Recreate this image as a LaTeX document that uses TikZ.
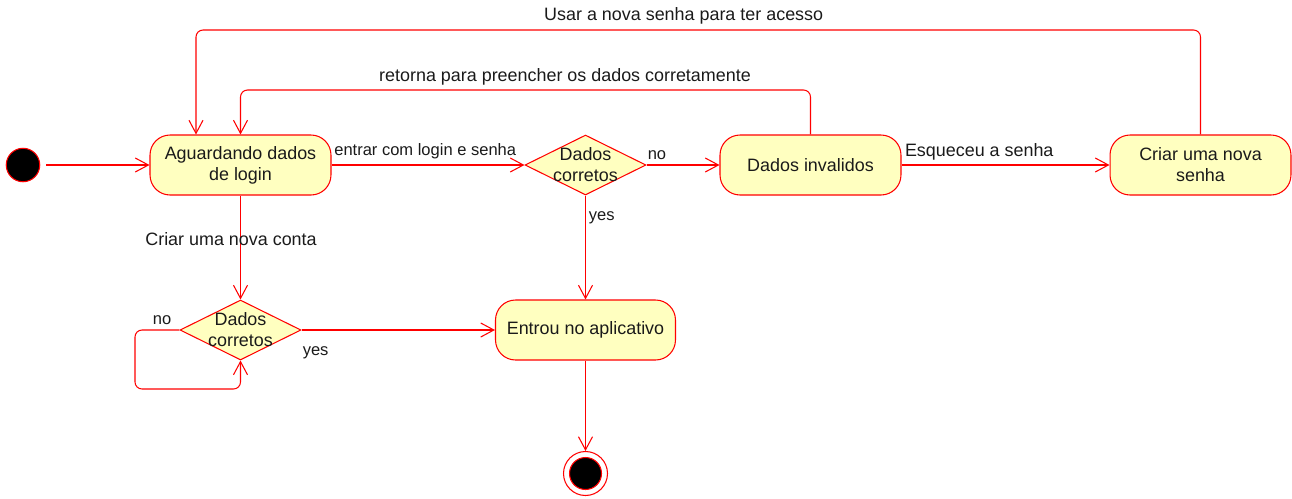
\documentclass[tikz,border=0pt]{standalone}
\usepackage{fontspec}
\setmainfont{Liberation Sans}
\usetikzlibrary{arrows.meta,shapes.geometric}
\definecolor{umlred}{HTML}{FF0000}
\definecolor{umlfill}{HTML}{FFFFC0}
\definecolor{umltext}{HTML}{1A1A1A}
\begin{document}
\begin{tikzpicture}[x=0.02cm,y=-0.02cm,>={Straight Barb[length=7.5pt,width=8pt]},
	estado/.style={draw=umlred,fill=umlfill,line width=0.6pt,rounded corners=0.4cm,minimum width=3.62cm,minimum height=1.2cm,inner sep=0pt,align=center,text=umltext,font=\fontsize{10.2}{12}\selectfont},
	decisao/.style={draw=umlred,fill=umlfill,line width=0.6pt,diamond,minimum width=2.42cm,minimum height=1.2cm,inner sep=0pt},
	dtexto/.style={align=center,text=umltext,inner sep=0pt,font=\fontsize{10.2}{12}\selectfont},
	fluxo/.style={->,draw=umlred,line width=0.6pt,rounded corners=4pt},
	rot/.style={text=umltext,inner sep=0pt,font=\fontsize{10.2}{12}\selectfont},
	rotp/.style={text=umltext,inner sep=0pt,font=\fontsize{9.4}{11}\selectfont}]
			\useasboundingbox (0,0) rectangle (1292,498);
			%estados
			\node[circle,draw=umlred,fill=black,line width=0.6pt,minimum size=0.67cm,inner sep=0pt] (I) at (23,165) {};
			\node[estado] (A) at (240.5,165) {Aguardando dados\\de login};
			\node[decisao,label={[dtexto]center:{Dados\\corretos}}] (D1) at (585.5,165) {};
			\node[estado] (INV) at (810.5,165) {Dados invalidos};
			\node[estado] (NS) at (1200.5,165) {Criar uma nova\\senha};
			\node[decisao,label={[dtexto]center:{Dados\\corretos}}] (D2) at (240.5,330) {};
			\node[estado,minimum width=3.6cm] (E) at (585.5,330) {Entrou no aplicativo};
			\node[circle,draw=umlred,fill=white,line width=0.6pt,minimum size=0.88cm,inner sep=0pt] (F) at (585.5,473.5) {};
			\node[circle,draw=umlred,fill=black,line width=0.6pt,minimum size=0.64cm,inner sep=0pt] (F2) at (F) {};
			%cantos dos retornos
			\coordinate (u1) at (1200.5,30);\coordinate (u2) at (196,30);
			\coordinate (r1) at (810.5,90);\coordinate (r2) at (240.5,90);
			\coordinate (l1) at (135,330);\coordinate (l2) at (135,389);\coordinate (l3) at (240.5,389);
			%transicoes
			\draw[fluxo,shorten <=3.4pt] (I)--(A);
			\draw[fluxo] (A)--node[rotp,pos=0,anchor=base west,xshift=1.3pt,yshift=5.3pt]{entrar com login e senha}(D1);
			\draw[fluxo] (D1)--node[rotp,pos=0,anchor=base west,xshift=0.4pt,yshift=3.2pt]{no}(INV);
			\draw[fluxo] (INV)--node[rot,pos=0,anchor=base west,xshift=1.7pt,yshift=5pt]{Esqueceu a senha}(NS);
			\draw[fluxo] (D1)--node[rotp,pos=0,anchor=base west,xshift=1.6pt,yshift=-14.3pt]{yes}(E);
			\draw[fluxo] (E)--(F);
			\draw[fluxo] (A)--node[rot,anchor=base,xshift=-5.4pt,yshift=1.4pt]{Criar uma nova conta}(D2);
			\draw[fluxo] (D2)--node[rotp,pos=0,anchor=base west,xshift=0.4pt,yshift=-14.4pt]{yes}(E);
			\draw[fluxo] (D2.west)--node[rotp,pos=0,anchor=base east,xshift=-4.4pt,yshift=3.4pt]{no}(l1)--(l2)--(l3)--(D2.south);
			\draw[fluxo] (NS.north)--(u1)--node[rot,pos=0.5145,anchor=base,yshift=5.4pt]{Usar a nova senha para ter acesso}(u2)--(u2 |- A.north);
			\draw[fluxo] (INV.north)--(r1)--node[rot,pos=0.4307,anchor=base,yshift=4.8pt]{retorna para preencher os dados corretamente}(r2)--(A.north);
\end{tikzpicture}
\end{document}
